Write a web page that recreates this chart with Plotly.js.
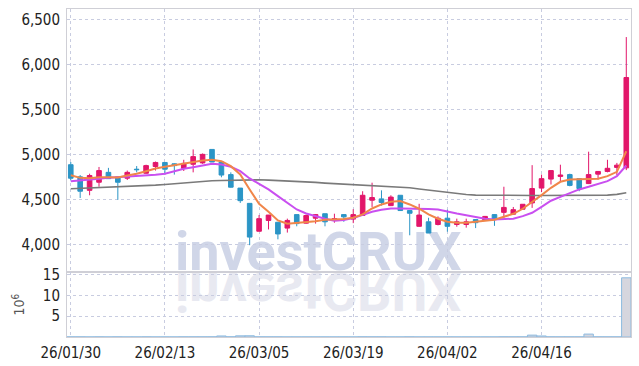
<!DOCTYPE html>
<html>
<head>
<meta charset="utf-8">
<script src="https://cdn.plot.ly/plotly-3.0.1.min.js"></script>
<style>html,body{margin:0;padding:0;background:#fff;}#chart{width:639px;height:366px;}</style>
</head>
<body>
<div id="chart"></div>
<script>
const dates = ['26/01/30','26/02/02','26/02/03','26/02/04','26/02/05','26/02/06','26/02/09','26/02/10','26/02/11','26/02/12',
'26/02/13','26/02/19','26/02/20','26/02/23','26/02/24','26/02/25','26/02/26','26/02/27','26/03/03','26/03/04',
'26/03/05','26/03/06','26/03/09','26/03/10','26/03/11','26/03/12','26/03/13','26/03/16','26/03/17','26/03/18',
'26/03/19','26/03/20','26/03/23','26/03/24','26/03/25','26/03/26','26/03/27','26/03/30','26/03/31','26/04/01',
'26/04/02','26/04/03','26/04/06','26/04/07','26/04/08','26/04/09','26/04/10','26/04/13','26/04/14','26/04/15',
'26/04/16','26/04/17','26/04/20','26/04/21','26/04/22','26/04/23','26/04/24','26/04/27','26/04/28','26/04/29'];

const openP  = [4890,4755,4605,4695,4805,4755,4740,4840,4795,4870,4915,4900,4850,4895,4910,5060,4920,4780,4630,4460,
4150,4270,4250,4185,4335,4240,4295,4345,4280,4335,4285,4325,4495,4510,4435,4550,4380,4205,4255,4225,
4295,4225,4225,4280,4270,4335,4360,4340,4395,4465,4630,4730,4760,4780,4735,4680,4785,4815,4860,4855];
const highP  = [4920,4775,4790,4865,4855,4760,4825,4875,4890,4925,4920,4905,4945,5060,5015,5060,4925,4805,4630,4460,
4330,4330,4250,4290,4335,4335,4340,4345,4345,4340,4395,4595,4690,4605,4550,4550,4380,4455,4300,4315,
4390,4290,4290,4280,4320,4340,4645,4420,4450,4885,4780,4825,4890,4790,4735,5035,4820,4945,4910,6310];
const lowP   = [4715,4520,4550,4645,4735,4500,4720,4805,4790,4825,4780,4780,4820,4805,4900,4920,4750,4635,4465,3995,
4150,4170,4060,4135,4205,4235,4235,4205,4245,4255,4240,4320,4420,4435,4430,4375,4105,4200,4130,4215,
4145,4200,4190,4185,4265,4210,4295,4335,4395,4410,4585,4670,4705,4650,4595,4675,4725,4805,4775,4830];
const closeP = [4740,4595,4770,4825,4735,4695,4805,4835,4880,4915,4840,4880,4905,4980,5005,4920,4775,4640,4490,4085,
4290,4330,4120,4270,4235,4325,4335,4255,4290,4310,4335,4550,4525,4470,4530,4380,4350,4330,4130,4295,
4205,4255,4255,4245,4315,4280,4415,4390,4450,4625,4735,4825,4775,4660,4625,4780,4815,4850,4885,5860];

const ma5  = [4773,4744,4740,4751,4751,4748,4770,4789,4818,4848,4867,4885,4900,4918,4938,4944,4929,4874,4781,4615,
4455,4366,4270,4233,4240,4251,4262,4278,4283,4285,4300,4337,4403,4448,4478,4485,4448,4400,4337,4289,
4256,4244,4244,4255,4262,4278,4311,4344,4400,4474,4552,4633,4700,4726,4726,4729,4733,4763,4811,5040];
const ma10 = [4707,4714,4718,4733,4744,4751,4751,4763,4770,4778,4789,4818,4844,4862,4880,4900,4892,4867,4818,4737,
4678,4615,4541,4467,4392,4348,4318,4289,4268,4275,4298,4335,4366,4389,4403,4403,4403,4400,4396,4392,
4374,4348,4329,4309,4289,4281,4281,4289,4318,4355,4422,4489,4533,4578,4615,4644,4678,4707,4763,4881];
const ma60 = [4622,4626,4630,4633,4637,4641,4644,4650,4657,4663,4670,4679,4688,4698,4707,4711,4715,4718,4720,4721,
4722,4719,4715,4711,4707,4700,4693,4685,4680,4674,4668,4663,4659,4652,4646,4640,4633,4620,4606,4592,
4578,4568,4558,4552,4550,4549,4548,4548,4548,4548,4548,4548,4548,4549,4550,4550,4551,4552,4560,4578];

const volume = [0.03,0.03,0.02,0.03,0.02,0.03,0.02,0.02,0.03,0.02,0.02,0.02,0.03,0.03,0.03,0.04,0.25,0.05,0.28,0.30,
0.04,0.03,0.03,0.02,0.02,0.02,0.02,0.02,0.02,0.02,0.02,0.04,0.03,0.03,0.02,0.02,0.03,0.02,0.02,0.02,
0.02,0.02,0.02,0.02,0.02,0.02,0.04,0.03,0.03,0.45,0.25,0.04,0.03,0.03,0.03,0.70,0.04,0.03,0.03,14.2];

const tickDates = ['26/01/30','26/02/13','26/03/05','26/03/19','26/04/02','26/04/16'];
const priceTicks = [4000,4500,5000,5500,6000,6500];
const volTicks = [5,10,15];

const FONT = '"Liberation Sans Narrow","DejaVu Sans Condensed","Arial Narrow",sans-serif';
const GRID = '#c8cce0';
const LINE = '#cfcfd6';

const traces = [
  {type:'candlestick', x:dates, open:openP, high:highP, low:lowP, close:closeP, xaxis:'x', yaxis:'y',
   increasing:{line:{color:'#e2166a', width:1}, fillcolor:'#e2166a'},
   decreasing:{line:{color:'#2b95c6', width:1}, fillcolor:'#2b95c6'},
   whiskerwidth:0, hoverinfo:'skip'},
  {type:'scatter', mode:'lines', x:dates, y:ma60, line:{color:'#7a7a7a', width:1.6}, xaxis:'x', yaxis:'y', hoverinfo:'skip'},
  {type:'scatter', mode:'lines', x:dates, y:ma10, line:{color:'#c94ff0', width:2}, xaxis:'x', yaxis:'y', hoverinfo:'skip'},
  {type:'scatter', mode:'lines', x:dates, y:ma5, line:{color:'#f0864a', width:2}, xaxis:'x', yaxis:'y', hoverinfo:'skip'},
  {type:'bar', x:dates, y:volume, xaxis:'x2', yaxis:'y2', marker:{color:'#d6d6de', line:{color:'#8dbbe0', width:1}}, hoverinfo:'skip'}
];

const layout = {
  width:639, height:366,
  margin:{l:67, r:8, t:9, b:29},
  paper_bgcolor:'#ffffff', plot_bgcolor:'#ffffff',
  showlegend:false, bargap:0,
  font:{family:FONT, size:15, color:'#222'},
  xaxis:{type:'category', anchor:'y', domain:[0,1], range:[-0.4,59.5], rangeslider:{visible:false},
    tickmode:'array', tickvals:tickDates, showticklabels:false, ticks:'',
    showgrid:true, gridcolor:GRID, griddash:'dot', gridwidth:1,
    showline:true, mirror:true, linecolor:LINE, linewidth:1},
  yaxis:{anchor:'x', domain:[0.198,1], range:[3696,6622], tickmode:'array', tickvals:priceTicks, tickformat:',d',
    showgrid:true, gridcolor:GRID, griddash:'dot', zeroline:false, ticks:'', ticklabelstandoff:3,
    showline:true, mirror:true, linecolor:LINE, linewidth:1},
  xaxis2:{type:'category', anchor:'y2', domain:[0,1], matches:'x', range:[-0.4,59.5],
    tickmode:'array', tickvals:tickDates, ticktext:tickDates, ticks:'', ticklabelstandoff:2,
    showgrid:true, gridcolor:GRID, griddash:'dot',
    showline:true, mirror:true, linecolor:LINE, linewidth:1},
  yaxis2:{anchor:'x2', domain:[0,0.197], range:[0,15.5], tickmode:'array', tickvals:volTicks,
    showgrid:true, gridcolor:GRID, griddash:'dot', zeroline:false, ticks:'', ticklabelstandoff:3,
    showline:true, mirror:true, linecolor:LINE, linewidth:1,
    title:{text:'10<sup>6</sup>', font:{size:14, color:'#555'}, standoff:14}},
  annotations:[
    {text:'investCRUX', xref:'paper', yref:'paper', x:0.446, y:0.159, xanchor:'center', yanchor:'bottom', showarrow:false,
     font:{family:'Roboto, "Open Sans", sans-serif', size:54, weight:700, color:'#d0d6e8'}},
    {text:'investCRUX', xref:'paper', yref:'paper', x:0.446, y:0.159, xanchor:'center', yanchor:'bottom', showarrow:false,
     font:{family:'Roboto, "Open Sans", sans-serif', size:54, weight:700, color:'#e8e9f1'}}
  ]
};

Plotly.newPlot('chart', traces, layout, {staticPlot:true, displayModeBar:false}).then(gd => {
  const anns = gd.querySelectorAll('.annotation');
  const below = gd.querySelector('.layer-below');
  if (anns.length === 2) {
    const t = anns[1].querySelector('text');
    if (t) {
      let by = parseFloat(t.getAttribute('y'));
      const bb = t.getBBox();
      if (!isFinite(by)) by = bb.y + bb.height * 0.78;
      t.setAttribute('transform', 'translate(0,' + (2 * by + 3) + ') scale(1,-1)');
    }
    if (below) { below.appendChild(anns[1]); below.appendChild(anns[0]); }
  }
});
</script>
</body>
</html>
